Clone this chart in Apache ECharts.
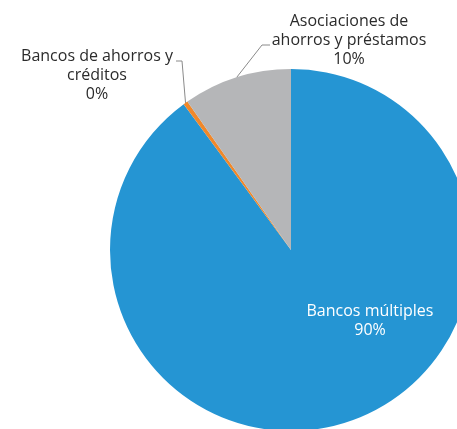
<!DOCTYPE html>
<html><head><meta charset="utf-8">
<script src="https://cdn.jsdelivr.net/npm/echarts@6/dist/echarts.min.js"></script>
<style>html,body{margin:0;padding:0;background:#fff}#c{width:457px;height:429px}</style>
</head><body><div id="c"></div>
<script>
const categories = ['Bancos múltiples', 'Bancos de ahorros y\ncréditos', 'Asociaciones de\nahorros y préstamos'];
const values = [89.9, 0.4, 9.7];
const percentLabels = ['90%', '0%', '10%'];
const colors = ['#2595D3', '#F0882A', '#B5B6B8'];

const CX = 291, CY = 250, R = 181;
const total = values.reduce((a, b) => a + b, 0);
function edgePoint(i) {
  let before = 0;
  for (let k = 0; k < i; k++) before += values[k];
  const a = (before + values[i] / 2) / total * 2 * Math.PI;
  return [CX + R * Math.sin(a), CY - R * Math.cos(a)];
}
const labelSpots = [
  { x: 370, y: 321 },
  { x: 97, y: 75, bend: [182, 61], end: [176, 61] },
  { x: 349, y: 40, bend: [262, 45], end: [270, 45] }
];

const chart = echarts.init(document.getElementById('c'), null, { renderer: 'canvas' });
chart.setOption({
  animation: false,
  series: [{
    type: 'pie',
    center: [CX, CY],
    radius: [0, R],
    startAngle: 90,
    clockwise: true,
    avoidLabelOverlap: false,
    data: categories.map((n, i) => ({
      name: n, value: values[i],
      itemStyle: { color: colors[i] },
      label: i === 0 ? { position: 'inside', color: '#ffffff' } : { position: 'outside', color: '#2b2b2b' },
      labelLine: { show: i !== 0 }
    })),
    itemStyle: { borderWidth: 0 },
    label: {
      fontFamily: 'Open Sans', fontSize: 16, lineHeight: 19, align: 'center',
      overflow: 'none', width: 200,
      formatter: p => p.name + '\n' + percentLabels[p.dataIndex]
    },
    labelLine: { lineStyle: { color: '#8a8a8a', width: 1 }, length: 10, length2: 5 },
    labelLayout: function (params) {
      const i = params.dataIndex, s = labelSpots[i];
      const out = { x: s.x, y: s.y, align: 'center', verticalAlign: 'middle' };
      if (s.bend) out.labelLinePoints = [edgePoint(i), s.bend, s.end];
      return out;
    }
  }]
});
</script></body></html>
